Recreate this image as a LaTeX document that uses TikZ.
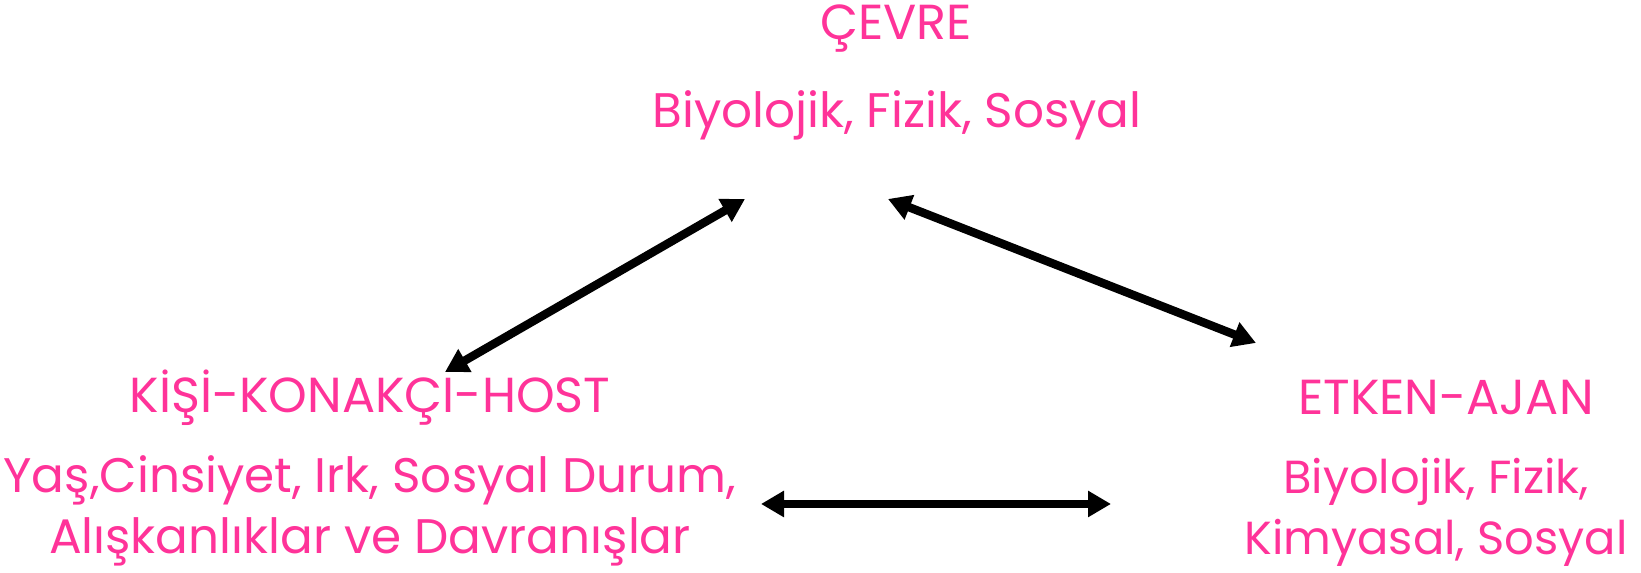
\documentclass[tikz,border=0pt]{standalone}
\usepackage{fontspec}
\setmainfont{Poppins}
\usepackage{tikz}
\usetikzlibrary{arrows.meta, positioning}
\definecolor{pembe}{HTML}{FF3399}
\tikzset{
    baslik/.style={text=pembe, font=\fontsize{14}{17.4}\selectfont, inner sep=0pt}, % group titles
    aciklama/.style={text=pembe, font=\fontsize{13.8}{17.4}\selectfont, align=center, inner sep=0pt}, % group contents
    ok/.style={line width=2.4pt, {Triangle[length=2.3mm,width=2.5mm]}-{Triangle[length=2.3mm,width=2.5mm]}}, % two-way arrows
}
\begin{document}
\begin{tikzpicture}
    \useasboundingbox (0,0) rectangle (16.41,-5.73);
    \node[baslik] (cevre) at (8.96,-0.29) {ÇEVRE};
    \node[aciklama] (cevreAlt) at (8.97,-1.15) {Biyolojik, Fizik, Sosyal};
    \node[baslik] (kisi) at (3.70,-3.98) {KİŞİ-KONAKÇI-HOST};
    \node[aciklama] (kisiAlt) at (3.70,-5.11) {Yaş,Cinsiyet, Irk, Sosyal Durum,\\Alışkanlıklar ve Davranışlar};
    \node[baslik] (etken) at (14.46,-3.98) {ETKEN-AJAN};
    \node[aciklama, font=\fontsize{13.2}{17.4}\selectfont] (etkenAlt) at (14.36,-5.12) {Biyolojik, Fizik,\\Kimyasal, Sosyal};
    \coordinate (k1) at (4.45,-3.72);
    \coordinate (c1) at (7.45,-1.99);
    \coordinate (c2) at (8.88,-1.99);
    \coordinate (e1) at (12.56,-3.43);
    \coordinate (k2) at (7.61,-5.04);
    \coordinate (e2) at (11.11,-5.04);
    \draw[ok] (k1) -- (c1);
    \draw[ok] (c2) -- (e1);
    \draw[ok] (k2) -- (e2);
\end{tikzpicture}
\end{document}
